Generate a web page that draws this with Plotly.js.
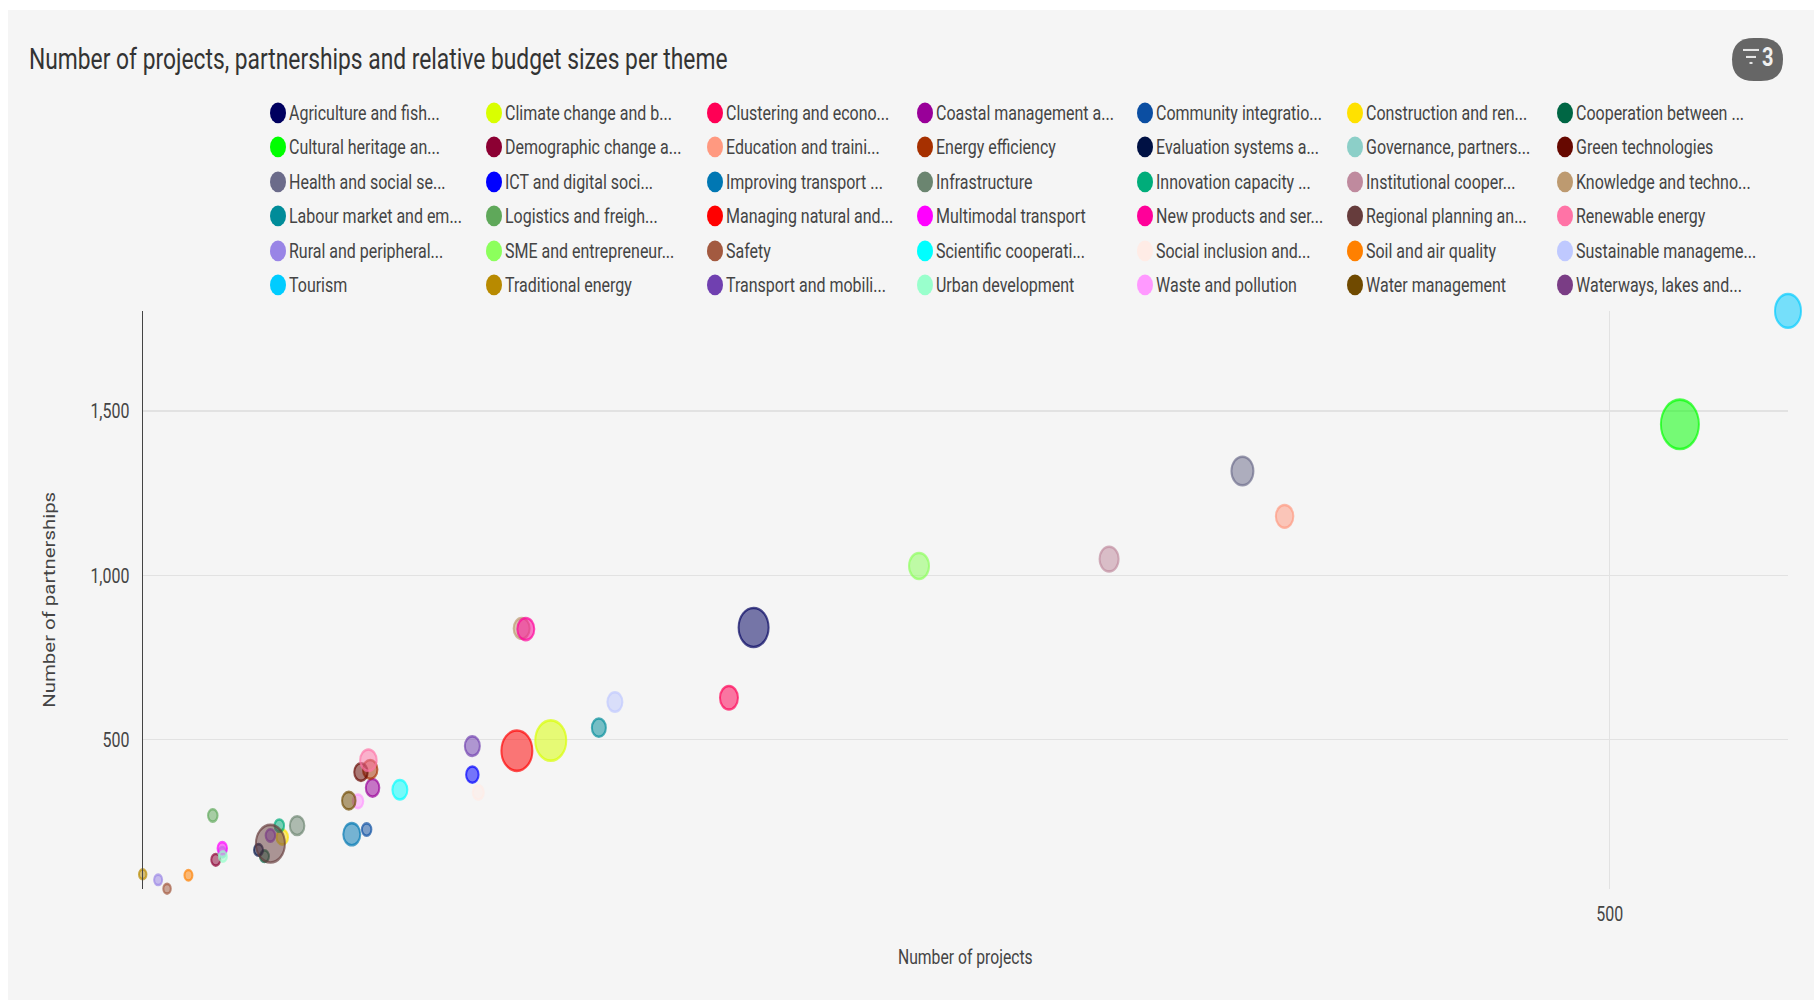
<!DOCTYPE html>
<html>
<head>
<meta charset="utf-8">
<script src="https://cdn.plot.ly/plotly-3.0.1.min.js"></script>
<style>
  html, body { margin: 0; padding: 0; background: #fff; overflow: hidden; }
  #panel { position: absolute; left: 8px; top: 10px; right: 0; bottom: 0; background: #f5f5f5; }
  #chart { position: absolute; left: 0; top: 0; width: 1814px; height: 769.23px;
           transform: scaleY(1.3); transform-origin: 0 0; }
</style>
</head>
<body>
<div id="panel"></div>
<div id="chart"></div>
<script>
// Themes in alphabetical order, as listed in the key.
const themes = [
  "Agriculture and fish...", "Climate change and b...", "Clustering and econo...", "Coastal management a...", "Community integratio...", "Construction and ren...", "Cooperation between ...",
  "Cultural heritage an...", "Demographic change a...", "Education and traini...", "Energy efficiency", "Evaluation systems a...", "Governance, partners...", "Green technologies",
  "Health and social se...", "ICT and digital soci...", "Improving transport ...", "Infrastructure", "Innovation capacity ...", "Institutional cooper...", "Knowledge and techno...",
  "Labour market and em...", "Logistics and freigh...", "Managing natural and...", "Multimodal transport", "New products and ser...", "Regional planning an...", "Renewable energy",
  "Rural and peripheral...", "SME and entrepreneur...", "Safety", "Scientific cooperati...", "Social inclusion and...", "Soil and air quality", "Sustainable manageme...",
  "Tourism", "Traditional energy", "Transport and mobili...", "Urban development", "Waste and pollution", "Water management", "Waterways, lakes and..."
];
const themeColors = [
  "#00005f", "#d9ff00", "#ff0055", "#990099", "#0b4ea2", "#ffe100", "#006644",
  "#00ff00", "#8c0033", "#ff9980", "#a63000", "#001144", "#8ccfc8", "#660800",
  "#6b6b8a", "#0000ff", "#0077b3", "#6b8570", "#00ad7a", "#bf8a9e", "#bd9a70",
  "#008c99", "#5fa85a", "#ff0000", "#ff00ff", "#ff0099", "#663c3c", "#ff73a6",
  "#9985e6", "#8cff5c", "#a35a40", "#00ffff", "#ffece6", "#ff8000", "#bfc9ff",
  "#00ccff", "#b88a00", "#7040b0", "#99ffcc", "#ff99ff", "#704a00", "#7a3d85"
];
const projects = [
  211.7, 143.4, 203.4, 83.4, 81.4, 53, 47,
  523.6, 30.6, 390.5, 82.6, 45, 32.8, 79.5,
  376.3, 117, 76.4, 58, 52, 331.4, 133.6,
  159.6, 29.6, 132, 32.8, 135, 49, 82,
  11.2, 267.4, 14.2, 92.6, 119, 21.4, 165,
  560, 6, 117, 33, 78.5, 75.4, 49
];
const partnerships = [
  842, 498, 628, 354, 227, 204, 146,
  1460, 135, 1180, 410, 165, 158, 402,
  1318, 394, 213, 239, 239, 1050, 839,
  537, 270, 467, 170, 837, 184, 438,
  74, 1029, 47, 348, 340, 88, 615,
  1805, 91, 481, 145, 313, 315, 209
];
const budgetSizes = [
  30, 31, 18, 13.5, 9.5, 11.5, 9,
  38, 9, 17.5, 14.5, 9, 8, 13.5,
  22, 12.5, 17, 14.5, 9.5, 19, 16,
  14, 9.5, 31, 9.5, 17, 29, 16.5,
  8, 20, 7.5, 15, 11, 8, 15,
  26, 7.5, 15, 8, 10.5, 13.5, 9.5
];
const xTicks = [500];
const yTicks = [500, 1000, 1500];

// Key layout, in page pixels of the overlay axes.
const keyColumns = [278, 494, 715, 925, 1145, 1355, 1565];
const keyRows = [113, 147, 182, 216, 251, 285];
const keyColumnOf = i => keyColumns[i % 7];
const keyRowOf = i => keyRows[Math.floor(i / 7)];

function withAlpha(hex, alpha) {
  const n = parseInt(hex.slice(1), 16);
  return `rgba(${n >> 16},${(n >> 8) & 255},${n & 255},${alpha})`;
}

const font = "Roboto, sans-serif";
const bubbles = {
  type: "scatter", mode: "markers", x: projects, y: partnerships, text: themes,
  hovertemplate: "%{text}<br>Projects: %{x}<br>Partnerships: %{y:,}<extra></extra>",
  cliponaxis: false, showlegend: false,
  marker: {
    size: budgetSizes, sizemode: "diameter", sizeref: 1, opacity: 1,
    color: themeColors.map(c => withAlpha(c, 0.52)),
    line: { width: 2, color: themeColors.map(c => withAlpha(c, 0.68)) }
  }
};
const keyDots = {
  type: "scatter", mode: "markers", xaxis: "x2", yaxis: "y2",
  x: themes.map((_, i) => keyColumnOf(i)),
  y: themes.map((_, i) => keyRowOf(i)),
  cliponaxis: false, marker: { size: 16, color: themeColors },
  hoverinfo: "skip", showlegend: false
};
const keyLabels = {
  type: "scatter", mode: "text", xaxis: "x2", yaxis: "y2",
  x: themes.map((_, i) => keyColumnOf(i) + 11),
  y: themes.map((_, i) => keyRowOf(i) + 1.5),
  text: themes, textposition: "middle right", cliponaxis: false,
  textfont: { family: font, size: 16, color: "#444" },
  hoverinfo: "skip", showlegend: false
};

// Filter badge: rounded pill with a funnel glyph and the active filter count.
const pill = "M 1754 38 L 1761 38 Q 1783 38 1783 59.5 Q 1783 81 1761 81 L 1754 81 Q 1732 81 1732 59.5 Q 1732 38 1754 38 Z";
const glyphLine = (x0, x1, y) => ({
  type: "line", xref: "x2", yref: "y2", x0, x1, y0: y, y1: y,
  line: { color: "#e6e6e6", width: 1.6 }
});

const layout = {
  width: 1814, height: 769.23,
  margin: { l: 0, r: 0, t: 0, b: 0 },
  paper_bgcolor: "rgba(0,0,0,0)", plot_bgcolor: "rgba(0,0,0,0)",
  font: { family: font, color: "#444" },
  title: {
    text: "Number of projects, partnerships and relative budget sizes per theme",
    font: { family: font, size: 22.8, color: "#333" },
    x: 29 / 1814, xref: "paper", xanchor: "left", y: 0.941, yref: "paper", yanchor: "middle", pad: { t: 0, b: 0, l: 0, r: 0 }
  },
  xaxis: {
    domain: [142.7 / 1814, 1788 / 1814], range: [6, 560],
    tickmode: "array", tickvals: xTicks, ticktext: xTicks.map(String),
    showgrid: true, gridcolor: "#e2e2e2", gridwidth: 1, zeroline: false, showline: false,
    ticks: "", ticklabelstandoff: 8, tickfont: { family: font, size: 16, color: "#444" },
    title: { text: "Number of projects", standoff: 18.5, font: { family: font, size: 15.7, color: "#444" } }
  },
  yaxis: {
    domain: [0.111, 0.689], range: [47, 1805],
    tickmode: "array", tickvals: yTicks, ticktext: yTicks.map(v => v.toLocaleString("en-US")),
    showgrid: true, gridcolor: "#e2e2e2", gridwidth: 1, zeroline: false,
    showline: true, linecolor: "#444", linewidth: 1,
    ticks: "", ticklabelstandoff: 9, tickfont: { family: font, size: 16, color: "#444" },
    title: { text: "Number of partnerships", standoff: 30, font: { family: font, size: 15.7, color: "#444" } }
  },
  xaxis2: { domain: [0, 1], range: [0, 1814], visible: false, anchor: "y2", fixedrange: true },
  yaxis2: { domain: [0, 1], range: [1000, 0], visible: false, anchor: "x2", fixedrange: true },
  shapes: [
    { type: "path", xref: "x2", yref: "y2", path: pill, fillcolor: "#666", line: { width: 0 } },
    glyphLine(1743, 1759, 50), glyphLine(1746, 1756, 57), glyphLine(1749.5, 1752.5, 63)
  ],
  annotations: [{
    xref: "x2", yref: "y2", x: 1767, y: 57.5, text: "<b>3</b>", showarrow: false,
    font: { family: font, size: 20, color: "#f0f0f0" }
  }]
};

Plotly.newPlot("chart", [bubbles, keyDots, keyLabels], layout, { displayModeBar: false, responsive: false });
</script>
</body>
</html>
